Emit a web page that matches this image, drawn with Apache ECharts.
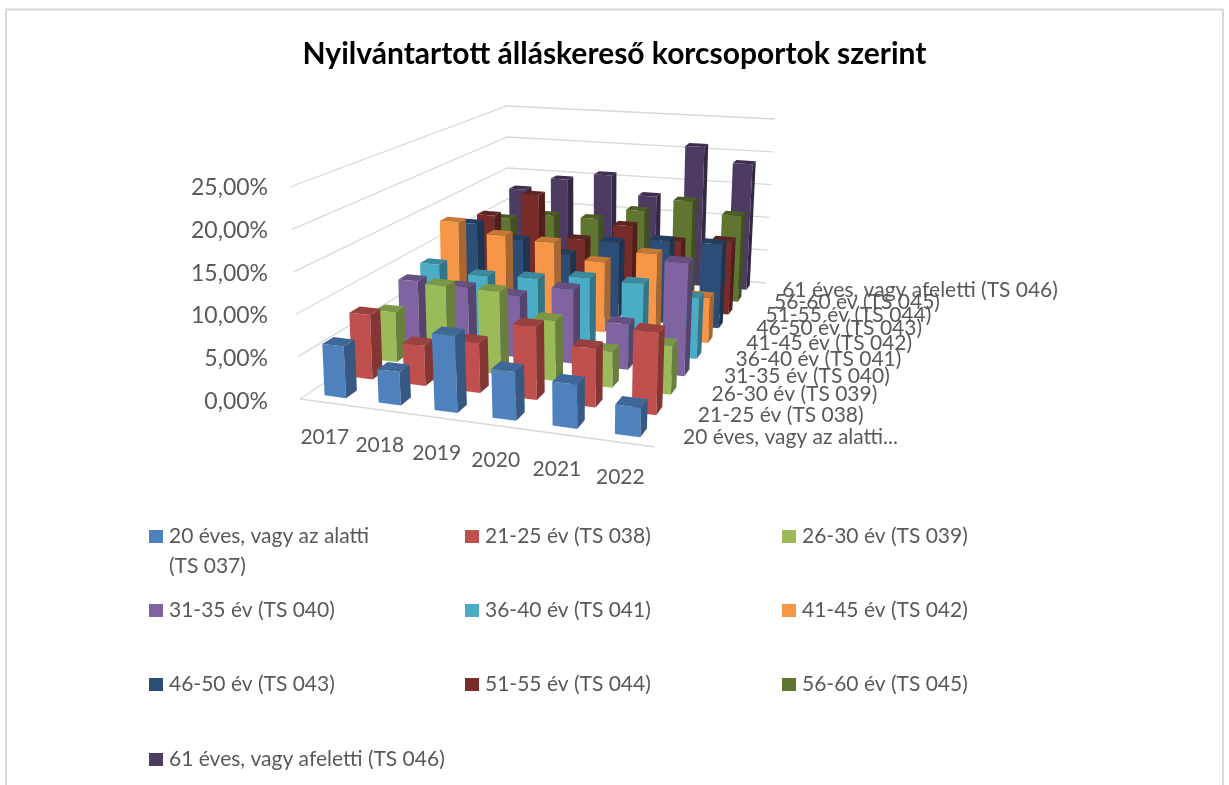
<!DOCTYPE html>
<html>
<head>
<meta charset="utf-8">
<title>Nyilvántartott álláskereső korcsoportok szerint</title>
<script src="https://cdn.jsdelivr.net/npm/echarts@6/dist/echarts.min.js"></script>
<style>
  html, body { margin: 0; padding: 0; background: #fff; }
  #main { width: 1229px; height: 785px; }
</style>
</head>
<body>
<div id="main"></div>
<script>
// 数据
var years = ['2017', '2018', '2019', '2020', '2021', '2022'];
var groupNames = [
  '20 éves, vagy az alatti (TS 037)', '21-25 év (TS 038)', '26-30 év (TS 039)',
  '31-35 év (TS 040)', '36-40 év (TS 041)', '41-45 év (TS 042)',
  '46-50 év (TS 043)', '51-55 év (TS 044)', '56-60 év (TS 045)',
  '61 éves, vagy afeletti (TS 046)'
];
var depthLabels = [
  '20 éves, vagy az alatti...', '21-25 év (TS 038)', '26-30 év (TS 039)',
  '31-35 év (TS 040)', '36-40 év (TS 041)', '41-45 év (TS 042)',
  '46-50 év (TS 043)', '51-55 év (TS 044)', '56-60 év (TS 045)',
  '61 éves, vagy afeletti (TS 046)'
];
var colors = ['#4f81bd', '#c0504d', '#9bbb59', '#8064a2', '#4bacc6', '#f79646', '#2c4d75', '#772c2a', '#5f7530', '#4d3b62'];
var yTicks = [0, 5, 10, 15, 20, 25];

var v20 = [6.1, 3.9, 8.9, 5.6, 5.0, 3.3];
var v21 = [7.9, 4.9, 6.0, 8.7, 6.9, 9.6];
var v26 = [6.3, 10.3, 10.3, 7.4, 4.4, 5.9];
var v31 = [8.5, 8.3, 7.9, 9.4, 5.7, 14.1];
var v36 = [9.0, 8.1, 8.4, 9.1, 9.0, 7.8];
var v41 = [13.3, 12.0, 11.6, 9.5, 11.2, 6.0];
var v46 = [11.6, 9.8, 8.3, 10.6, 11.4, 11.5];
var v51 = [11.4, 14.9, 8.9, 11.4, 9.7, 10.3];
var v56 = [9.5, 10.5, 10.5, 12.2, 14.1, 12.5];
var v61 = [12.7, 14.7, 15.8, 13.0, 21.0, 18.8];
var groupValues = [v20, v21, v26, v31, v36, v41, v46, v51, v56, v61];

// 图表平面位置
var plotLeft = 300, plotWidth = 355, plotTop = 187.5, plotHeight = 214;
var floorQuad = [[300, 399], [655, 447], [766, 283], [508, 261]];
var topQuad = [[290, 187], [662, 221], [775, 119], [507, 106]];
var legendCols = [149, 465, 782];
var legendRows = [527, 601, 675, 750];

// 单位正方形到四边形的透视变换
function makeHomography(q) {
  var dx1 = q[1][0] - q[2][0], dx2 = q[3][0] - q[2][0], sx = q[0][0] - q[1][0] + q[2][0] - q[3][0];
  var dy1 = q[1][1] - q[2][1], dy2 = q[3][1] - q[2][1], sy = q[0][1] - q[1][1] + q[2][1] - q[3][1];
  var d = dx1 * dy2 - dx2 * dy1;
  var g = (sx * dy2 - dx2 * sy) / d, h = (dx1 * sy - sx * dy1) / d;
  var a = q[1][0] - q[0][0] + g * q[1][0], b = q[3][0] - q[0][0] + h * q[3][0];
  var c = q[1][1] - q[0][1] + g * q[1][1], e = q[3][1] - q[0][1] + h * q[3][1];
  return function (u, v) {
    var w = g * u + h * v + 1;
    return [(a * u + b * v + q[0][0]) / w, (c * u + e * v + q[0][1]) / w];
  };
}
var floorMap = makeHomography(floorQuad);
var topMap = makeHomography(topQuad);

// u: 年份方向 0-1, v: 年龄组方向 0-1, h: 高度 0-1
function project(u, v, h) {
  var a = floorMap(u, v), b = topMap(u, v);
  return [a[0] + (b[0] - a[0]) * h, a[1] + (b[1] - a[1]) * h];
}
function shade(hex, k) {
  var n = parseInt(hex.slice(1), 16);
  return 'rgb(' + Math.round((n >> 16) * k) + ',' + Math.round(((n >> 8) & 255) * k) + ',' + Math.round((n & 255) * k) + ')';
}

// 柱子
function barSeries(j) {
  return {
    name: groupNames[j],
    type: 'custom',
    coordinateSystem: 'cartesian2d',
    clip: false,
    itemStyle: { color: colors[j] },
    encode: { x: 0, y: 1 },
    data: groupValues[j].map(function (val, i) { return [years[i], val]; }),
    renderItem: function (params, api) {
      var pt = api.coord([api.value(0), api.value(1)]);
      var band = api.size([1, 0])[0];
      var u0 = (pt[0] - band * 0.2 - plotLeft) / plotWidth;
      var u1 = (pt[0] + band * 0.2 - plotLeft) / plotWidth;
      var h = (plotTop + plotHeight - pt[1]) / plotHeight;
      var v0 = (j + 0.3) / groupNames.length, v1 = (j + 0.7) / groupNames.length;
      var a = project(u0, v0, 0), b = project(u1, v0, 0), c = project(u1, v0, h), d = project(u0, v0, h);
      var e = project(u1, v1, 0), f = project(u1, v1, h), g = project(u0, v1, h);
      return {
        type: 'group',
        children: [
          { type: 'polygon', shape: { points: [a, b, c, d] }, style: { fill: colors[j] } },
          { type: 'polygon', shape: { points: [b, e, f, c] }, style: { fill: shade(colors[j], 0.68) } },
          { type: 'polygon', shape: { points: [d, c, f, g] }, style: { fill: shade(colors[j], 0.8) } }
        ]
      };
    }
  };
}

// 墙面网格线
var wallSeries = {
  name: 'walls',
  type: 'custom',
  coordinateSystem: 'cartesian2d',
  clip: false,
  silent: true,
  z: 1,
  data: yTicks.map(function (t) { return [years[0], t]; }),
  encode: { x: 0, y: 1 },
  renderItem: function (params, api) {
    var pt = api.coord([api.value(0), api.value(1)]);
    var h = (plotTop + plotHeight - pt[1]) / plotHeight;
    var pts = [project(0, 0, h), project(0, 1, h), project(1, 1, h)];
    var kids = [{ type: 'polyline', shape: { points: pts }, style: { fill: 'none', stroke: '#d9d9d9', lineWidth: 1.3 } }];
    if (api.value(1) === 0) {
      kids.push({ type: 'line', shape: { x1: pts[0][0], y1: pts[0][1], x2: project(1, 0, 0)[0], y2: project(1, 0, 0)[1] }, style: { stroke: '#d9d9d9', lineWidth: 1.3 } });
    }
    return { type: 'group', children: kids };
  }
};

// 年份标签和年龄组标签
var yearLabelSeries = {
  name: 'yearLabels',
  type: 'custom',
  coordinateSystem: 'cartesian2d',
  clip: false,
  silent: true,
  z: 3,
  data: years.map(function (y) { return [y, 0]; }),
  encode: { x: 0, y: 1 },
  renderItem: function (params, api) {
    var pt = api.coord([api.value(0), 0]);
    var p = project((pt[0] - plotLeft) / plotWidth, 0, 0);
    return { type: 'text', style: { x: p[0] - 2, y: p[1] + 35, text: years[params.dataIndex], font: '21px Lato', fill: '#595959', align: 'center', verticalAlign: 'middle' } };
  }
};
var depthLabelSeries = {
  name: 'depthLabels',
  type: 'custom',
  coordinateSystem: 'cartesian2d',
  clip: false,
  silent: true,
  z: 3,
  data: depthLabels.map(function (s, j) { return [years[5], j]; }),
  encode: { x: 0, y: 1 },
  renderItem: function (params, api) {
    var j = params.dataIndex;
    var p = project(1, (j + 0.5) / depthLabels.length, 0);
    return { type: 'text', style: { x: p[0] + 20, y: p[1] + 1.5, text: depthLabels[j], font: '21px Lato', fill: '#595959', align: 'left', verticalAlign: 'middle' } };
  }
};

var myChart = echarts.init(document.querySelector('#main'));

// 图例: 每项一个 legend, 三列排列
var legends = groupNames.map(function (name, j) {
  return {
    data: [name],
    left: legendCols[j % 3],
    top: legendRows[Math.floor(j / 3)] - 1,
    icon: 'rect',
    itemWidth: 14,
    itemHeight: 13,
    itemGap: 0,
    padding: 0,
    selectedMode: false,
    formatter: function (n) { return n.replace(' (TS 037)', ''); },
    textStyle: { color: '#595959', fontSize: 21, fontFamily: 'Lato', padding: [0, 0, 0, 1] }
  };
});

var option = {
  animation: false,
  backgroundColor: '#fff',
  title: {
    text: 'Nyilvántartott álláskereső korcsoportok szerint',
    left: 'center',
    top: 34,
    textStyle: { color: '#000', fontSize: 30, fontWeight: 'bold', fontFamily: 'Lato' }
  },
  legend: legends,
  graphic: [
    // 外框 (底边在画面之外)
    { type: 'rect', silent: true, z: 0, shape: { x: 6, y: 9.5, width: 1217, height: 800 }, style: { fill: 'none', stroke: '#d9d9d9', lineWidth: 2 } },
    // 第一个图例的第二行
    { type: 'text', silent: true, style: { x: 169, y: 566, text: '(TS 037)', font: '21px Lato', fill: '#595959', verticalAlign: 'middle' } }
  ],
  grid: { left: plotLeft, top: plotTop, width: plotWidth, height: plotHeight },
  xAxis: { type: 'category', data: years, show: false },
  yAxis: {
    type: 'value',
    min: 0,
    max: 25,
    interval: 5,
    axisLine: { show: false },
    axisTick: { show: false },
    splitLine: { show: false },
    axisLabel: {
      margin: 32,
      color: '#595959',
      fontSize: 23,
      fontFamily: 'Lato',
      formatter: function (v) { return v.toFixed(2).replace('.', ',') + '%'; }
    }
  },
  series: [wallSeries, yearLabelSeries, depthLabelSeries].concat(
    groupNames.map(function (n, j) { return barSeries(groupNames.length - 1 - j); })
  )
};

myChart.setOption(option);

window.addEventListener('resize', function () {
  myChart.resize();
});
</script>
</body>
</html>
